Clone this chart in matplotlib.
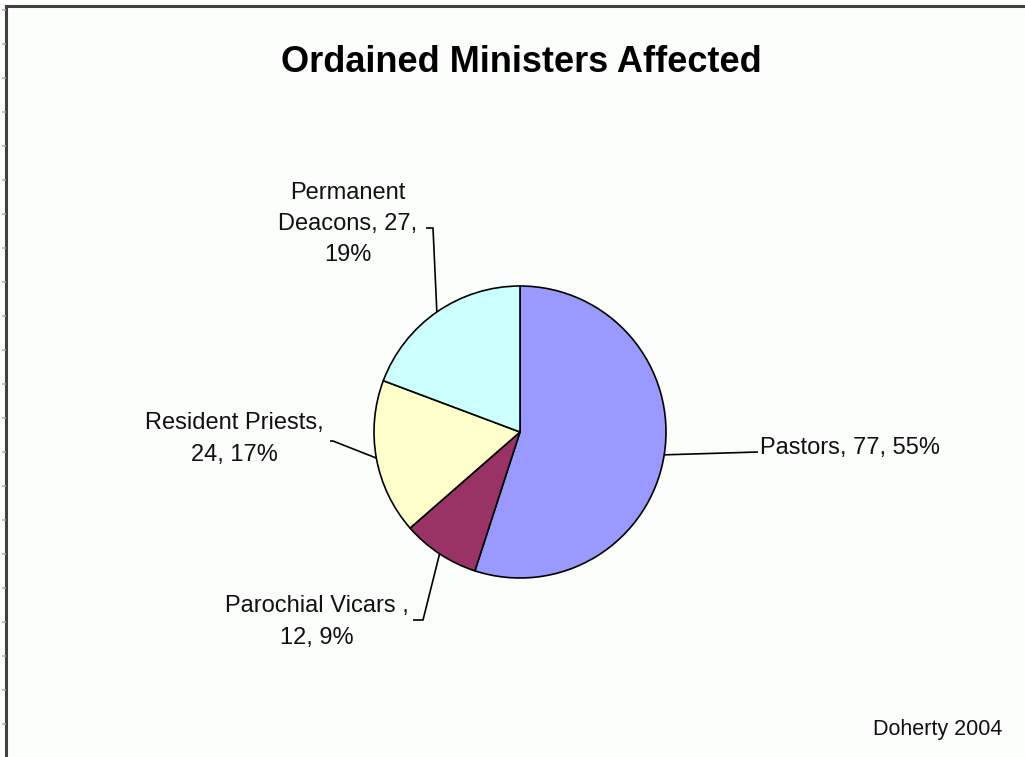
import matplotlib
matplotlib.use('Agg')
import matplotlib.pyplot as plt
import numpy as np

plt.rcParams['font.family'] = ['Liberation Sans', 'DejaVu Sans']

# Ministers affected, by role
roles = ['Pastors', 'Parochial Vicars ', 'Resident Priests', 'Permanent Deacons']
counts = [77, 12, 24, 27]
percents = [55, 9, 17, 19]
colors = ['#9999FF', '#993366', '#FFFFCC', '#CCFFFF']

W, H = 1025, 757
bg = '#FCFEFC'

fig = plt.figure(figsize=(W / 100, H / 100), dpi=100, facecolor=bg)
ax = fig.add_axes([0, 0, 1, 1])
ax.set_facecolor(bg)

# pie geometry in pixel units (y measured from the top)
cx, cy, r = 520, 432, 146
wedges, _ = ax.pie(counts, colors=colors, startangle=90, counterclock=False,
                   center=(cx, H - cy), radius=r,
                   wedgeprops=dict(edgecolor='black', linewidth=1.2))

# label text: centre position, alignment, and leader path (elbow points)
label_text = [
    f'{roles[0]}, {counts[0]}, {percents[0]}%',
    f'{roles[1]},\n{counts[1]}, {percents[1]}%',
    f'{roles[2]},\n{counts[2]}, {percents[2]}%',
    f'Permanent\nDeacons, {counts[3]},\n{percents[3]}%',
]
label_pos = [(760, 448, 'left'), (317, 622, 'center'),
             (234, 439, 'center'), (348, 224, 'center')]
elbows = [[(758, 452)],
          [(423, 620), (413, 620)],
          [(333, 441), (330, 441)],
          [(433, 228), (426, 228)]]

for w, txt, (tx, ty, ha), elb in zip(wedges, label_text, label_pos, elbows):
    mid = np.deg2rad((w.theta1 + w.theta2) / 2)
    ax0 = cx + r * np.cos(mid)
    ay0 = (H - cy) + r * np.sin(mid)
    xs = [ax0] + [p[0] for p in elb]
    ys = [ay0] + [H - p[1] for p in elb]
    ax.plot(xs, ys, color='black', linewidth=1.2, solid_capstyle='butt')
    ax.text(tx, H - ty, txt, ha=ha, va='center', fontsize=17,
            linespacing=1.55, color='#111111')

ax.text(521, H - 62, 'Ordained Ministers Affected', ha='center', va='center',
        fontsize=26, fontweight='bold', color='black')
ax.text(1002, H - 730, 'Doherty 2004', ha='right', va='center',
        fontsize=15.5, color='#111111')

# chart area frame (top and left edges) with the sheet's row marks
ax.plot([6, W], [H - 6, H - 6], color='#404040', linewidth=2.2)
ax.plot([6, 6], [0, H - 6], color='#404040', linewidth=2.2)
for y in np.arange(10, H, 34):
    ax.plot([2.5, 4.5], [H - y, H - y], color='#b0b0b0', linewidth=1.2)

ax.set_xlim(0, W)
ax.set_ylim(0, H)
ax.set_aspect('equal')
ax.axis('off')

fig.savefig('out.png', dpi=100, facecolor=bg)
